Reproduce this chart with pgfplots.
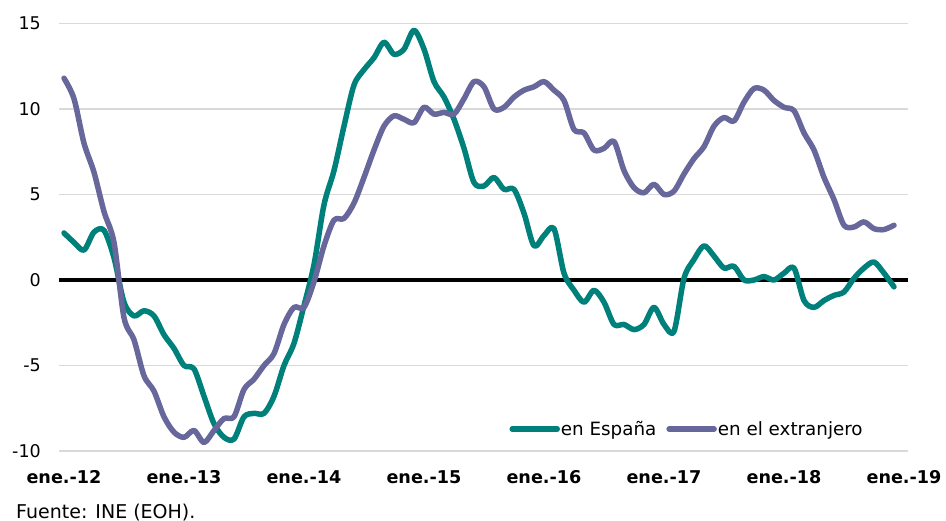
\documentclass[border=0pt]{standalone}
\usepackage{fontspec}
\setmainfont{DejaVu Sans}
\usepackage{pgfplots}
\pgfplotsset{compat=1.18}
\usepackage{pgfplotstable}
\definecolor{tealc}{RGB}{0,128,122}
\definecolor{purpc}{RGB}{104,103,155}
\definecolor{gridc}{RGB}{217,217,217}
\pgfplotstableread{
m E X
0 2.75 11.8
1 2.2 10.6
2 1.75 8.0
3 2.8 6.3
4 2.9 4.0
5 1.3 2.2
6 -1.3 -2.2
7 -2.1 -3.5
8 -1.8 -5.6
9 -2.1 -6.5
10 -3.2 -8.0
11 -4.0 -8.9
12 -5.0 -9.2
13 -5.2 -8.8
14 -6.8 -9.5
15 -8.4 -8.8
16 -9.2 -8.1
17 -9.3 -8.0
18 -8.0 -6.4
19 -7.8 -5.8
20 -7.8 -5.0
21 -6.8 -4.3
22 -5.0 -2.6
23 -3.7 -1.6
24 -1.5 -1.6
25 0.9 -0.1
26 4.4 2.0
27 6.4 3.5
28 9.0 3.6
29 11.4 4.5
30 12.3 6.0
31 13.0 7.6
32 13.9 9.0
33 13.2 9.6
34 13.5 9.4
35 14.6 9.2
36 13.5 10.1
37 11.6 9.7
38 10.7 9.8
39 9.4 9.7
40 7.7 10.6
41 5.7 11.6
42 5.5 11.3
43 6.0 10.0
44 5.3 10.1
45 5.3 10.7
46 3.9 11.1
47 2.0 11.3
48 2.6 11.6
49 3.0 11.1
50 0.4 10.5
51 -0.6 8.8
52 -1.3 8.6
53 -0.6 7.6
54 -1.3 7.7
55 -2.6 8.1
56 -2.6 6.4
57 -2.9 5.4
58 -2.6 5.1
59 -1.6 5.6
60 -2.6 5.0
61 -3.0 5.2
62 0.1 6.2
63 1.2 7.1
64 2.0 7.8
65 1.4 9.0
66 0.7 9.5
67 0.8 9.3
68 0.0 10.4
69 0.0 11.2
70 0.2 11.1
71 0.0 10.5
72 0.4 10.1
73 0.7 9.9
74 -1.2 8.6
75 -1.6 7.6
76 -1.2 6.0
77 -0.9 4.7
78 -0.7 3.2
79 0.1 3.1
80 0.7 3.4
81 1.05 3.0
82 0.4 2.95
83 -0.4 3.2
}\datatab
\begin{document}
\begin{tikzpicture}
\path[use as bounding box] (0,0) rectangle (946bp,521bp);
\begin{axis}[
  at={(59bp,70bp)}, anchor=south west, scale only axis,
  width=849bp, height=427.5bp,
  xmin=-0.5, xmax=84.4, ymin=-10, ymax=15,
  axis line style={draw=none},
  major tick length=0pt,
  ytick={-10,-5,0,5,10,15}, yticklabels={-10,-5,0,5,10,15},
  xtick={0,12,24,36,48,60,72,84},
  xticklabels={ene.-12,ene.-13,ene.-14,ene.-15,ene.-16,ene.-17,ene.-18,ene.-19},
  ymajorgrids, grid style={gridc, line width=1.5bp},
  xticklabel style={font=\fontsize{17.6bp}{20bp}\selectfont\bfseries, anchor=base, yshift=-32bp, inner sep=0pt},
  yticklabel style={font=\fontsize{17.5bp}{20bp}\selectfont, anchor=east, inner sep=0pt, xshift=-18bp},
  clip=false,
  legend columns=2,
  legend image code/.code={\draw[#1, line cap=round] (0bp,0bp) -- (45bp,0bp);},
  legend style={at={(axis description cs:0.5306,0.0515)}, anchor=west, draw=none, fill=none,
    inner sep=0pt, outer sep=0pt, font=\fontsize{18.3bp}{21bp}\selectfont,
    cells={anchor=west}, nodes={inner sep=0pt},
    /tikz/every odd column/.append style={column sep=1bp},
    /tikz/every even column/.append style={column sep=10bp}},
]
\addplot[black, line width=3.5bp, forget plot] coordinates {(-0.5,0) (84.4,0)};
\addplot[tealc, line width=5.5bp, smooth, line join=round, line cap=round] table[x=m, y=E] {\datatab};
\addlegendentry{en España}
\addplot[purpc, line width=5.5bp, smooth, line join=round, line cap=round] table[x=m, y=X] {\datatab};
\addlegendentry{en el extranjero}
\end{axis}
\node[anchor=base west, inner sep=0pt, font=\fontsize{19bp}{22bp}\selectfont] at (16bp,3bp) {Fuente: INE (EOH).};
\end{tikzpicture}
\end{document}
